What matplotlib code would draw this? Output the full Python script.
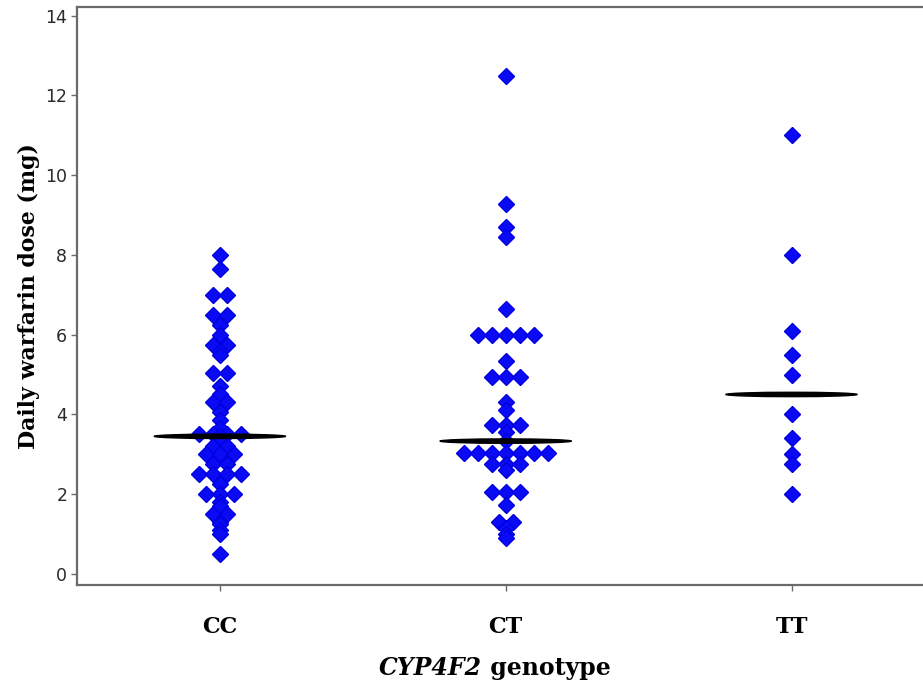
import numpy as np
import matplotlib
matplotlib.use('Agg')
import matplotlib.pyplot as plt
from matplotlib.patches import Ellipse

genotypes = ['CC', 'CT', 'TT']

# daily warfarin dose (mg) per genotype
cc_dose = [8.0, 7.65, 7.0, 7.0, 6.5, 6.5, 6.25, 6.0, 5.75, 5.75,
           5.6, 5.5, 5.05, 5.05, 4.7, 4.5, 4.3, 4.3, 4.05, 3.85,
           3.65, 3.5, 3.5, 3.5, 3.5, 3.45, 3.35, 3.2, 3.2, 3.0,
           3.0, 3.0, 2.75, 2.75, 2.5, 2.5, 2.5, 2.5, 2.25, 2.0,
           2.0, 2.0, 1.8, 1.7, 1.5, 1.5, 1.3, 1.25, 1.1, 1.0,
           0.5]
ct_dose = [12.5, 9.27, 8.7, 8.45, 6.65, 6.0, 6.0, 6.0, 6.0, 6.0,
           5.33, 4.95, 4.95, 4.95, 4.3, 4.1, 3.73, 3.73, 3.73, 3.55,
           3.33, 3.03, 3.03, 3.03, 3.03, 3.03, 3.03, 3.03, 2.75, 2.75,
           2.75, 2.6, 2.05, 2.05, 2.05, 1.73, 1.3, 1.3, 1.15, 1.0,
           0.9]
tt_dose = [11.0, 8.0, 6.1, 5.5, 5.0, 4.0, 3.4, 3.0, 2.75, 2.0]

doses = [cc_dose, ct_dose, tt_dose]


def row_offsets(values, step):
    # equal values are laid side by side, centred on the group
    values = np.asarray(values)
    offsets = np.zeros(len(values))
    for v in np.unique(values):
        idx = np.where(values == v)[0]
        offsets[idx] = (np.arange(len(idx)) - (len(idx) - 1) / 2) * step
    return offsets


fig = plt.figure(figsize=(9.23, 6.9), dpi=100)
ax = fig.add_axes([77 / 923, 1 - 585 / 690, 1 - 77 / 923, (585 - 7) / 690])

for i, vals in enumerate(doses):
    pos = i + 1
    x = pos + row_offsets(vals, 0.049)
    ax.plot(x, vals, linestyle='none', marker='D', ms=7.8,
            color='#0a0af5', markeredgecolor='#0000e0', zorder=2)
    med = np.median(vals)
    ax.add_patch(Ellipse((pos, med), 0.46, 0.11, color='black', zorder=3))

ax.set_xlim(0.5, 3.46)
ax.set_ylim(-0.28, 14.22)
ax.set_yticks(np.arange(0, 15, 2))
ax.set_xticks([1, 2, 3])
ax.set_xticklabels(genotypes, fontfamily='DejaVu Serif', fontweight='bold', fontsize=16)

for s in ['left', 'top', 'bottom']:
    ax.spines[s].set_color('#6a6a6a')
    ax.spines[s].set_linewidth(1.6)
ax.spines['right'].set_visible(False)

ax.tick_params(axis='y', direction='out', length=4, width=1, color='#6a6a6a',
               labelsize=12.5, labelcolor='#2a2a2a', pad=3)
ax.tick_params(axis='x', direction='out', length=4, width=1, color='#6a6a6a',
               pad=18)

ax.set_ylabel('Daily warfarin dose (mg)', fontfamily='DejaVu Serif',
              fontweight='bold', fontsize=15.8, labelpad=4)

t1 = fig.text(482 / 923, 1 - 668 / 690, 'CYP4F2', fontfamily='DejaVu Serif',
              fontweight='bold', fontstyle='italic', fontsize=17,
              ha='right', va='center')
ax.annotate(' genotype', xy=(1, 0), xycoords=t1, va='bottom', ha='left',
            fontfamily='DejaVu Serif', fontweight='bold', fontsize=17,
            annotation_clip=False)

fig.savefig('out.png', dpi=100, facecolor='white')
